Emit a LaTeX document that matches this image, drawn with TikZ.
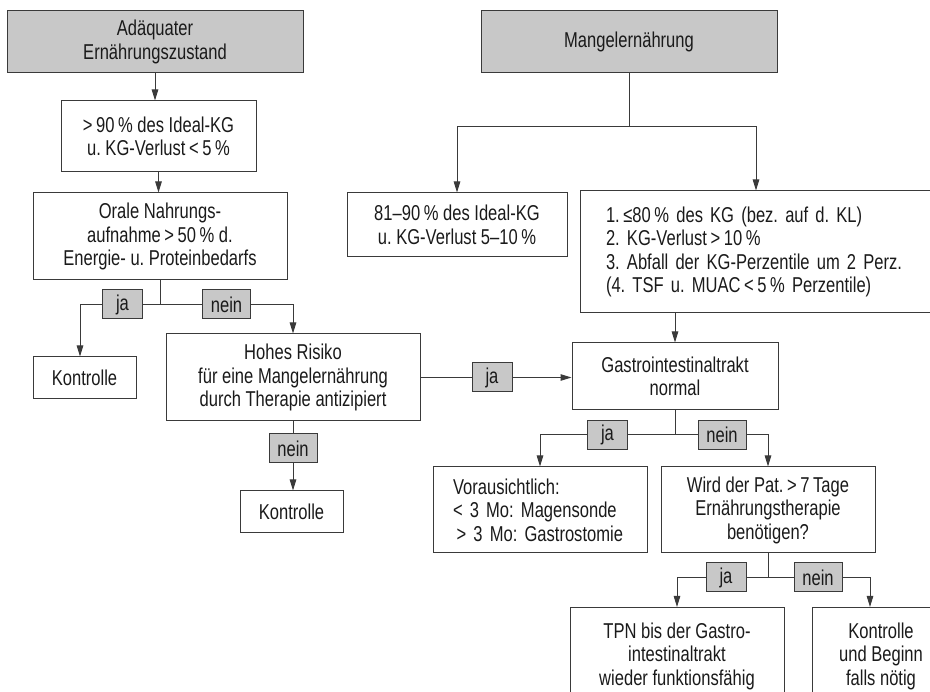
\documentclass[tikz,border=0pt]{standalone}
\usepackage{fontspec}
\setmainfont{Liberation Sans}[FakeStretch=0.77]
\frenchspacing
\usetikzlibrary{arrows.meta}
\definecolor{linec}{HTML}{3A3A3A}
\definecolor{fillc}{HTML}{C8C8C8}
\definecolor{textc}{HTML}{1A1A1A}

\begin{document}
\begin{tikzpicture}[x=1pt,y=-1pt,
  plainbox/.style={draw=linec,line width=1pt,text=textc,align=center,inner sep=0pt,font=\fontsize{21.5}{23.5}\selectfont},
  headbox/.style={plainbox,fill=fillc,minimum width=296pt,minimum height=62pt},
  tagbox/.style={plainbox,fill=fillc,minimum width=40pt,minimum height=29pt},
  wire/.style={draw=linec,line width=1pt},
  arr/.style={wire,-{Triangle[length=11pt,width=6.5pt]}}]

\useasboundingbox (0,0) rectangle (930,692);
\clip (0,0) rectangle (930,692);

% boxes:
\node[headbox] (ade) at (155,42) {Adäquater\\Ernährungszustand};
\node[headbox] (mangel) at (629,42) {Mangelernährung};
\node[plainbox,minimum width=195pt,minimum height=71pt] (ideal) at (158.5,136.5) {>\,90\,\% des Ideal-KG\\u. KG-Verlust\,<\,5\,\%};
\node[plainbox,minimum width=254pt,minimum height=87pt] (orale) at (160,236.5) {Orale Nahrungs-\\aufnahme\,>\,50\,\% d.\\Energie- u. Proteinbedarfs};
\node[plainbox,minimum width=220pt,minimum height=64pt] (mid) at (457,225) {81–90\,\% des Ideal-KG\\u. KG-Verlust 5–10\,\%};
\node[plainbox,align=left,text width=328pt,inner xsep=26pt,minimum height=122pt] (krit) at (770,252) {1.\,≤80\,\% des KG (bez. auf d. KL)\\2. KG-Verlust\,>\,10\,\%\\3. Abfall der KG-Perzentile um 2 Perz.\\(4. TSF u. MUAC\,<\,5\,\% Perzentile)};
\node[plainbox,minimum width=103pt,minimum height=42pt] (kontra) at (84.5,378) {Kontrolle};
\node[plainbox,minimum width=254pt,minimum height=87pt] (risiko) at (293,377.5) {Hohes Risiko\\für eine Mangelernährung\\durch Therapie antizipiert};
\node[plainbox,minimum width=103pt,minimum height=42pt] (kontrb) at (291.5,512) {Kontrolle};
\node[plainbox,minimum width=206pt,minimum height=67pt] (gastro) at (675,376.5) {Gastrointestinaltrakt\\normal};
\node[plainbox,align=left,text width=174pt,inner xsep=20pt,minimum height=86pt] (sonde) at (540,510) {Vorausichtlich:\\< 3 Mo: Magensonde\\\,> 3 Mo: Gastrostomie};
\node[plainbox,minimum width=214pt,minimum height=86pt] (dauer) at (768,510) {Wird der Pat.\,>\,7\,Tage\\Ernährungstherapie\\benötigen?};
\node[plainbox,anchor=north,minimum width=214pt,inner ysep=15pt] (tpn) at (677,607) {TPN bis der Gastro-\\intestinaltrakt\\wieder funktionsfähig};
\node[plainbox,anchor=north,minimum width=138pt,inner ysep=15pt] (beginn) at (881,607) {Kontrolle\\und Beginn\\falls nötig};

% ja/nein tags:
\node[tagbox] (ja1) at (122.5,304.5) {ja};
\node[tagbox,minimum width=48pt] (nein1) at (226.5,304.5) {nein};
\node[tagbox] (ja2) at (492,377.5) {ja};
\node[tagbox,minimum width=48pt] (nein2) at (293,448.5) {nein};
\node[tagbox] (ja3) at (607.5,435) {ja};
\node[tagbox,minimum width=48pt] (nein3) at (722,435) {nein};
\node[tagbox] (ja4) at (726,577.5) {ja};
\node[tagbox,minimum width=48pt] (nein4) at (818,577.5) {nein};
\coordinate (split) at (629,127);

% connectors:
\draw[arr] (ade.south) -- (ade.south |- ideal.north);
\draw[arr] (ideal.south) -- (ideal.south |- orale.north);
\draw[wire] (orale.south) -- (orale.south |- ja1);
\draw[wire] (ja1.east) -- (nein1.west);
\draw[arr] (ja1.west) -| ([xshift=-4.5pt]kontra.north);
\draw[arr] (nein1.east) -| (risiko.north);
\draw[wire] (risiko.east) -- (ja2.west);
\draw[arr] (ja2.east) -- (ja2.east -| gastro.west);
\draw[wire] (risiko.south) -- (nein2.north);
\draw[arr] (nein2.south) -- (nein2.south |- kontrb.north);
\draw[wire] (mangel.south) -- (split);
\draw[arr] (split) -| (mid.north);
\draw[arr] (split) -| ([xshift=-14pt]krit.north);
\draw[arr] (krit.south -| gastro.north) -- (gastro.north);
\draw[wire] (gastro.south) -- (gastro.south |- ja3);
\draw[wire] (ja3.east) -- (nein3.west);
\draw[arr] (ja3.west) -| (sonde.north);
\draw[arr] (nein3.east) -| (dauer.north);
\draw[wire] (dauer.south) -- (dauer.south |- ja4);
\draw[wire] (ja4.east) -- (nein4.west);
\draw[arr] (ja4.west) -| (tpn.north);
\draw[arr] (nein4.east) -| ([xshift=-11pt]beginn.north);

\end{tikzpicture}
\end{document}
